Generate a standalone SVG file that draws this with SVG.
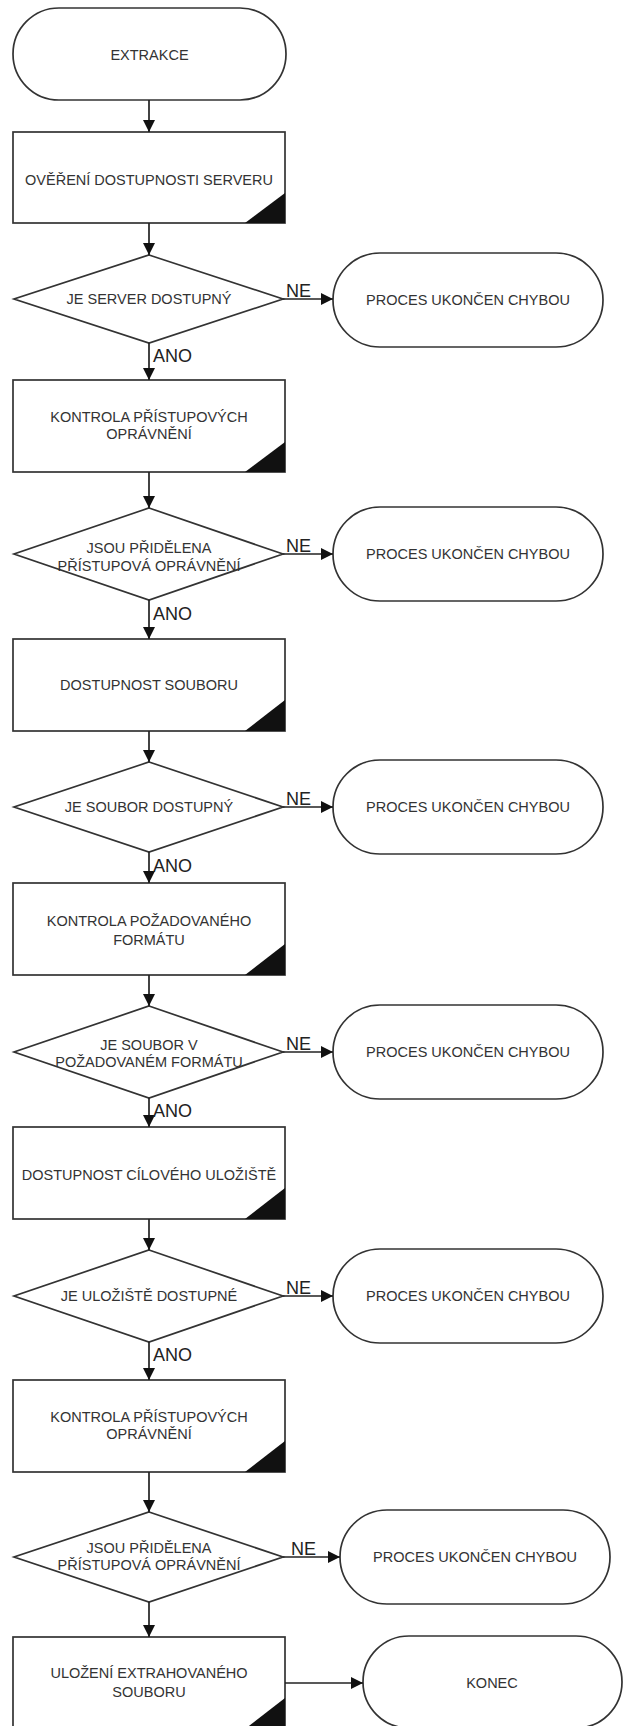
<svg xmlns="http://www.w3.org/2000/svg" width="624" height="1726" viewBox="0 0 624 1726">
<style>
.shape{fill:#fff;stroke:#333;stroke-width:1.7}
.corner{fill:#111;stroke:none}
.t{font-family:"Liberation Sans",Arial,sans-serif;font-size:14.5px;fill:#333;text-anchor:middle}
.lbl{font-family:"Liberation Sans",Arial,sans-serif;font-size:18px;fill:#222}
.conn line{stroke:#222;stroke-width:1.7;fill:none}
</style>
<defs>
<marker id="ah" viewBox="0 0 12 12" refX="12" refY="6" markerWidth="12" markerHeight="12" markerUnits="userSpaceOnUse" orient="auto">
<path d="M0,0 L12,6 L0,12 z" fill="#111"/>
</marker>
</defs>
<rect width="624" height="1726" fill="#fff"/>

<g id="t0"><rect class="shape" x="13" y="8" width="273" height="92" rx="46" ry="46"/><text class="t" x="149.5" y="60">EXTRAKCE</text></g>

<g id="r1"><rect class="shape" x="13" y="132" width="272" height="91"/><path class="corner" d="M285,193 L285,223 L245,223 z"/><text class="t" x="149" y="185">OVĚŘENÍ DOSTUPNOSTI SERVERU</text></g>
<g id="d1"><polygon class="shape" points="149,255 283,299 149,343 14,299"/><text class="t" x="149" y="304">JE SERVER DOSTUPNÝ</text></g>
<g id="e1"><rect class="shape" x="333" y="253" width="270" height="94" rx="47" ry="47"/><text class="t" x="468" y="305">PROCES UKONČEN CHYBOU</text></g>

<g id="r2"><rect class="shape" x="13" y="380" width="272" height="92"/><path class="corner" d="M285,442 L285,472 L245,472 z"/><text class="t" x="149" y="422">KONTROLA PŘÍSTUPOVÝCH</text><text class="t" x="149" y="439">OPRÁVNĚNÍ</text></g>
<g id="d2"><polygon class="shape" points="149,508 283,554 149,600 14,554"/><text class="t" x="149" y="553">JSOU PŘIDĚLENA</text><text class="t" x="149" y="571">PŘÍSTUPOVÁ OPRÁVNĚNÍ</text></g>
<g id="e2"><rect class="shape" x="333" y="507" width="270" height="94" rx="47" ry="47"/><text class="t" x="468" y="559">PROCES UKONČEN CHYBOU</text></g>

<g id="r3"><rect class="shape" x="13" y="639" width="272" height="92"/><path class="corner" d="M285,700 L285,731 L245,731 z"/><text class="t" x="149" y="690">DOSTUPNOST SOUBORU</text></g>
<g id="d3"><polygon class="shape" points="149,762 283,807 149,852 14,807"/><text class="t" x="149" y="812">JE SOUBOR DOSTUPNÝ</text></g>
<g id="e3"><rect class="shape" x="333" y="760" width="270" height="94" rx="47" ry="47"/><text class="t" x="468" y="812">PROCES UKONČEN CHYBOU</text></g>

<g id="r4"><rect class="shape" x="13" y="883" width="272" height="92"/><path class="corner" d="M285,944 L285,975 L245,975 z"/><text class="t" x="149" y="926">KONTROLA POŽADOVANÉHO</text><text class="t" x="149" y="945">FORMÁTU</text></g>
<g id="d4"><polygon class="shape" points="149,1006 283,1052 149,1098 14,1052"/><text class="t" x="149" y="1050">JE SOUBOR V</text><text class="t" x="149" y="1067">POŽADOVANÉM FORMÁTU</text></g>
<g id="e4"><rect class="shape" x="333" y="1005" width="270" height="94" rx="47" ry="47"/><text class="t" x="468" y="1057">PROCES UKONČEN CHYBOU</text></g>

<g id="r5"><rect class="shape" x="13" y="1127" width="272" height="92"/><path class="corner" d="M285,1188 L285,1219 L245,1219 z"/><text class="t" x="149" y="1180">DOSTUPNOST CÍLOVÉHO ULOŽIŠTĚ</text></g>
<g id="d5"><polygon class="shape" points="149,1250 283,1296 149,1342 14,1296"/><text class="t" x="149" y="1301">JE ULOŽIŠTĚ DOSTUPNÉ</text></g>
<g id="e5"><rect class="shape" x="333" y="1249" width="270" height="94" rx="47" ry="47"/><text class="t" x="468" y="1301">PROCES UKONČEN CHYBOU</text></g>

<g id="r6"><rect class="shape" x="13" y="1380" width="272" height="92"/><path class="corner" d="M285,1441 L285,1472 L245,1472 z"/><text class="t" x="149" y="1422">KONTROLA PŘÍSTUPOVÝCH</text><text class="t" x="149" y="1439">OPRÁVNĚNÍ</text></g>
<g id="d6"><polygon class="shape" points="149,1512 283,1557 149,1602 14,1557"/><text class="t" x="149" y="1553">JSOU PŘIDĚLENA</text><text class="t" x="149" y="1570">PŘÍSTUPOVÁ OPRÁVNĚNÍ</text></g>
<g id="e6"><rect class="shape" x="340" y="1510" width="270" height="94" rx="47" ry="47"/><text class="t" x="475" y="1562">PROCES UKONČEN CHYBOU</text></g>

<g id="r7"><rect class="shape" x="13" y="1637" width="272" height="92"/><path class="corner" d="M285,1698 L285,1729 L245,1729 z"/><text class="t" x="149" y="1678">ULOŽENÍ EXTRAHOVANÉHO</text><text class="t" x="149" y="1697">SOUBORU</text></g>
<g id="end"><rect class="shape" x="363" y="1636" width="259" height="92" rx="46" ry="46"/><text class="t" x="492" y="1688">KONEC</text></g>

<g id="connectors" class="conn">
<line x1="149" y1="100" x2="149" y2="132" marker-end="url(#ah)"/>
<line x1="149" y1="223" x2="149" y2="255" marker-end="url(#ah)"/>
<line x1="149" y1="343" x2="149" y2="380" marker-end="url(#ah)"/>
<line x1="283" y1="299" x2="333" y2="299" marker-end="url(#ah)"/>
<line x1="149" y1="472" x2="149" y2="508" marker-end="url(#ah)"/>
<line x1="149" y1="600" x2="149" y2="639" marker-end="url(#ah)"/>
<line x1="283" y1="554" x2="333" y2="554" marker-end="url(#ah)"/>
<line x1="149" y1="731" x2="149" y2="762" marker-end="url(#ah)"/>
<line x1="149" y1="852" x2="149" y2="883" marker-end="url(#ah)"/>
<line x1="283" y1="807" x2="333" y2="807" marker-end="url(#ah)"/>
<line x1="149" y1="975" x2="149" y2="1006" marker-end="url(#ah)"/>
<line x1="149" y1="1098" x2="149" y2="1127" marker-end="url(#ah)"/>
<line x1="283" y1="1052" x2="333" y2="1052" marker-end="url(#ah)"/>
<line x1="149" y1="1219" x2="149" y2="1250" marker-end="url(#ah)"/>
<line x1="149" y1="1342" x2="149" y2="1380" marker-end="url(#ah)"/>
<line x1="283" y1="1296" x2="333" y2="1296" marker-end="url(#ah)"/>
<line x1="149" y1="1472" x2="149" y2="1512" marker-end="url(#ah)"/>
<line x1="149" y1="1602" x2="149" y2="1637" marker-end="url(#ah)"/>
<line x1="283" y1="1557" x2="340" y2="1557" marker-end="url(#ah)"/>
<line x1="285" y1="1683" x2="363" y2="1683" marker-end="url(#ah)"/>
<text class="lbl" x="286" y="297">NE</text>
<text class="lbl" x="153" y="362">ANO</text>
<text class="lbl" x="286" y="552">NE</text>
<text class="lbl" x="153" y="620">ANO</text>
<text class="lbl" x="286" y="805">NE</text>
<text class="lbl" x="153" y="872">ANO</text>
<text class="lbl" x="286" y="1050">NE</text>
<text class="lbl" x="153" y="1117">ANO</text>
<text class="lbl" x="286" y="1294">NE</text>
<text class="lbl" x="153" y="1361">ANO</text>
<text class="lbl" x="291" y="1555">NE</text>
</g>
</svg>
